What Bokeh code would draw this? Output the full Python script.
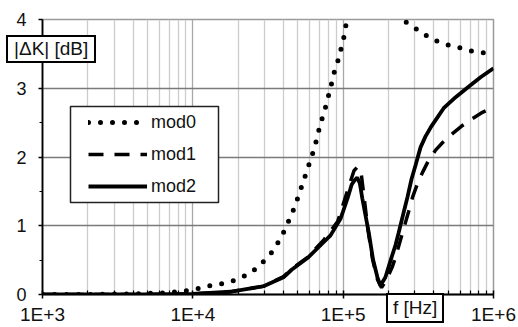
from bokeh.plotting import figure
from bokeh.layouts import column
from bokeh.models import FixedTicker, Legend, LegendItem, BoxAnnotation, Div
from bokeh.embed import file_html
from bokeh.resources import INLINE

# ---- data ----
f0 = [1e3, 2e3, 4e3, 6e3, 8e3, 1.01e4, 1.23e4, 1.51e4, 1.81e4, 2.17e4, 2.54e4, 2.95e4,
      3.34e4, 3.72e4, 4.07e4, 4.40e4, 4.75e4, 5.05e4, 5.37e4, 5.70e4, 6.07e4, 6.46e4,
      6.76e4, 7.08e4, 7.52e4, 7.87e4, 8.24e4, 8.63e4, 9.18e4, 9.62e4, 1.007e5, 1.04e5,
      1.08e5, 1.15e5, 1.3e5, 1.6e5, 2.0e5, 2.3e5, 2.45e5, 2.9e5, 3.37e5, 3.94e5, 4.73e5,
      5.77e5, 6.82e5, 8.34e5, 1e6]
mod0 = [0.0, 0.0, 0.01, 0.02, 0.04, 0.07, 0.12, 0.15, 0.19, 0.26, 0.35, 0.48,
        0.61, 0.77, 0.93, 1.10, 1.27, 1.44, 1.61, 1.78, 1.96, 2.14,
        2.32, 2.49, 2.67, 2.84, 3.00, 3.20, 3.38, 3.55, 3.72, 3.90,
        4.1, 4.6, 5.5, 6.5, 5.0, 4.3, 4.0, 3.9, 3.8, 3.71, 3.64,
        3.60, 3.55, 3.52, 3.50]

f1 = [1e3, 5e3, 1e4, 1.78e4, 2.95e4, 4.01e4, 4.54e4, 5.79e4, 7.41e4, 9.19e4, 1.09e5,
      1.18e5, 1.25e5, 1.32e5, 1.38e5, 1.46e5, 1.57e5, 1.69e5, 1.80e5, 1.95e5, 2.13e5,
      2.27e5, 2.41e5, 2.56e5, 2.72e5, 2.90e5, 3.13e5, 3.38e5, 3.70e5, 4.12e5, 4.59e5,
      5.19e5, 6.14e5, 7.26e5, 8.45e5, 1e6]
mod1 = [0.0, 0.0, 0.01, 0.04, 0.12, 0.26, 0.37, 0.54, 0.79, 1.06, 1.57,
        1.80, 1.86, 1.75, 1.40, 0.95, 0.51, 0.22, 0.10, 0.22, 0.41,
        0.60, 0.80, 1.00, 1.20, 1.42, 1.62, 1.78, 1.95, 2.10, 2.21,
        2.32, 2.45, 2.56, 2.65, 2.72]

f2 = [1e3, 5e3, 1e4, 1.78e4, 2.95e4, 4.01e4, 4.54e4, 5.79e4, 7.41e4, 8.24e4, 9.6e4,
      1.07e5, 1.14e5, 1.19e5, 1.24e5, 1.29e5, 1.34e5, 1.48e5, 1.58e5, 1.69e5, 1.77e5,
      1.91e5, 2.07e5, 2.23e5, 2.34e5, 2.53e5, 2.68e5, 2.85e5, 3.03e5, 3.27e5, 3.53e5,
      3.82e5, 4.25e5, 4.66e5, 5.60e5, 6.73e5, 8.20e5, 1e6]
mod2 = [0.0, 0.0, 0.01, 0.04, 0.12, 0.25, 0.36, 0.53, 0.76, 0.86, 1.10,
        1.40, 1.60, 1.66, 1.70, 1.62, 1.40, 0.90, 0.51, 0.25, 0.13,
        0.25, 0.50, 0.72, 0.90, 1.20, 1.42, 1.68, 1.88, 2.14, 2.30,
        2.43, 2.58, 2.71, 2.87, 3.01, 3.16, 3.29]

x_ticks = [1e3, 1e4, 1e5, 1e6]
x_tick_labels = ["1E+3", "1E+4", "1E+5", "1E+6"]
y_ticks = [0, 1, 2, 3, 4]
y_minor = [0.5, 1.5, 2.5, 3.5]
series_names = ["mod0", "mod1", "mod2"]
y_label = "|ΔK| [dB]"
x_label = "f [Hz]"

FONT = "Liberation Sans"

p = figure(width=518, height=327, x_axis_type="log", x_range=(1e3, 1e6), y_range=(0, 4),
           output_backend="svg", toolbar_location=None,
           min_border_left=42, min_border_right=25, min_border_top=19, min_border_bottom=32)
p.background_fill_color = "white"
p.border_fill_color = "white"
p.outline_line_color = "#9a9a9a"
p.outline_line_width = 1.5

minor_x = [m * d for d in [1e3, 1e4, 1e5] for m in range(2, 10)]
p.xaxis.ticker = FixedTicker(ticks=x_ticks, minor_ticks=minor_x)
p.yaxis.ticker = FixedTicker(ticks=y_ticks, minor_ticks=y_minor)
p.xaxis.major_label_overrides = {t: s for t, s in zip(x_ticks, x_tick_labels)}

for ax in (p.xaxis[0], p.yaxis[0]):
    ax.axis_line_color = "black"
    ax.axis_line_width = 1.8
    ax.major_tick_line_color = "black"
    ax.major_tick_line_width = 1.5
    ax.minor_tick_line_color = "black"
    ax.minor_tick_line_width = 1.2
    ax.major_label_text_font = FONT
    ax.major_label_text_color = "#111111"

p.xaxis.major_label_text_font_size = "19px"
p.yaxis.major_label_text_font_size = "18px"
p.xaxis.major_tick_in = 4
p.xaxis.major_tick_out = 4
p.xaxis.minor_tick_in = 4
p.xaxis.minor_tick_out = 0
p.xaxis.major_label_standoff = 5
p.yaxis.major_tick_in = 0
p.yaxis.major_tick_out = 4
p.yaxis.minor_tick_in = 0
p.yaxis.minor_tick_out = 3
p.yaxis.major_label_standoff = 12

p.xgrid.grid_line_color = "#a8a8a8"
p.xgrid.grid_line_width = 1.3
p.xgrid.minor_grid_line_color = "#cccccc"
p.xgrid.minor_grid_line_width = 1.3
p.ygrid.grid_line_color = "#7a7a7a"
p.ygrid.grid_line_width = 1.5

r0 = p.line(f0, mod0, line_color="black", line_width=5, line_dash="0 12", line_cap="round")
r1 = p.line(f1, mod1, line_color="black", line_width=3.5, line_dash="15 11")
r2 = p.line(f2, mod2, line_color="black", line_width=3.8)

# legend frame
box = BoxAnnotation(left=28, right=176, top=188, bottom=92,
                    left_units="screen", right_units="screen",
                    top_units="screen", bottom_units="screen",
                    fill_color="white", fill_alpha=1.0,
                    line_color="#222222", line_width=1.5, line_alpha=1.0)
p.add_layout(box)

legend = Legend(items=[LegendItem(label=n, renderers=[r]) for n, r in zip(series_names, [r0, r1, r2])],
                location=(46, 96), margin=0, padding=0, spacing=8,
                glyph_width=59, glyph_height=24, label_standoff=4,
                label_text_font=FONT, label_text_font_size="18px", label_text_color="#111111",
                border_line_alpha=0, background_fill_alpha=0)
p.add_layout(legend, "center")

# boxed axis titles, overlaid on the canvas (they straddle the axes)
def boxed(text, left, top, pad_h, line_h):
    return Div(text=text, styles={
        "position": "absolute", "left": f"{left}px", "top": f"{top}px",
        "z-index": "10", "background": "white", "border": "2px solid black",
        "padding": f"0px {pad_h}px", "line-height": f"{line_h}px",
        "font-family": "'Liberation Sans'", "font-size": "19px", "color": "#111111",
        "white-space": "nowrap", "margin": "0px"})

div_y = boxed(y_label, 6, 35, 6, 24)
div_x = boxed(x_label, 386, 293, 5, 26)

layout = column(p, div_y, div_x, spacing=0)

open("out.html", "w").write(file_html(layout, INLINE))
